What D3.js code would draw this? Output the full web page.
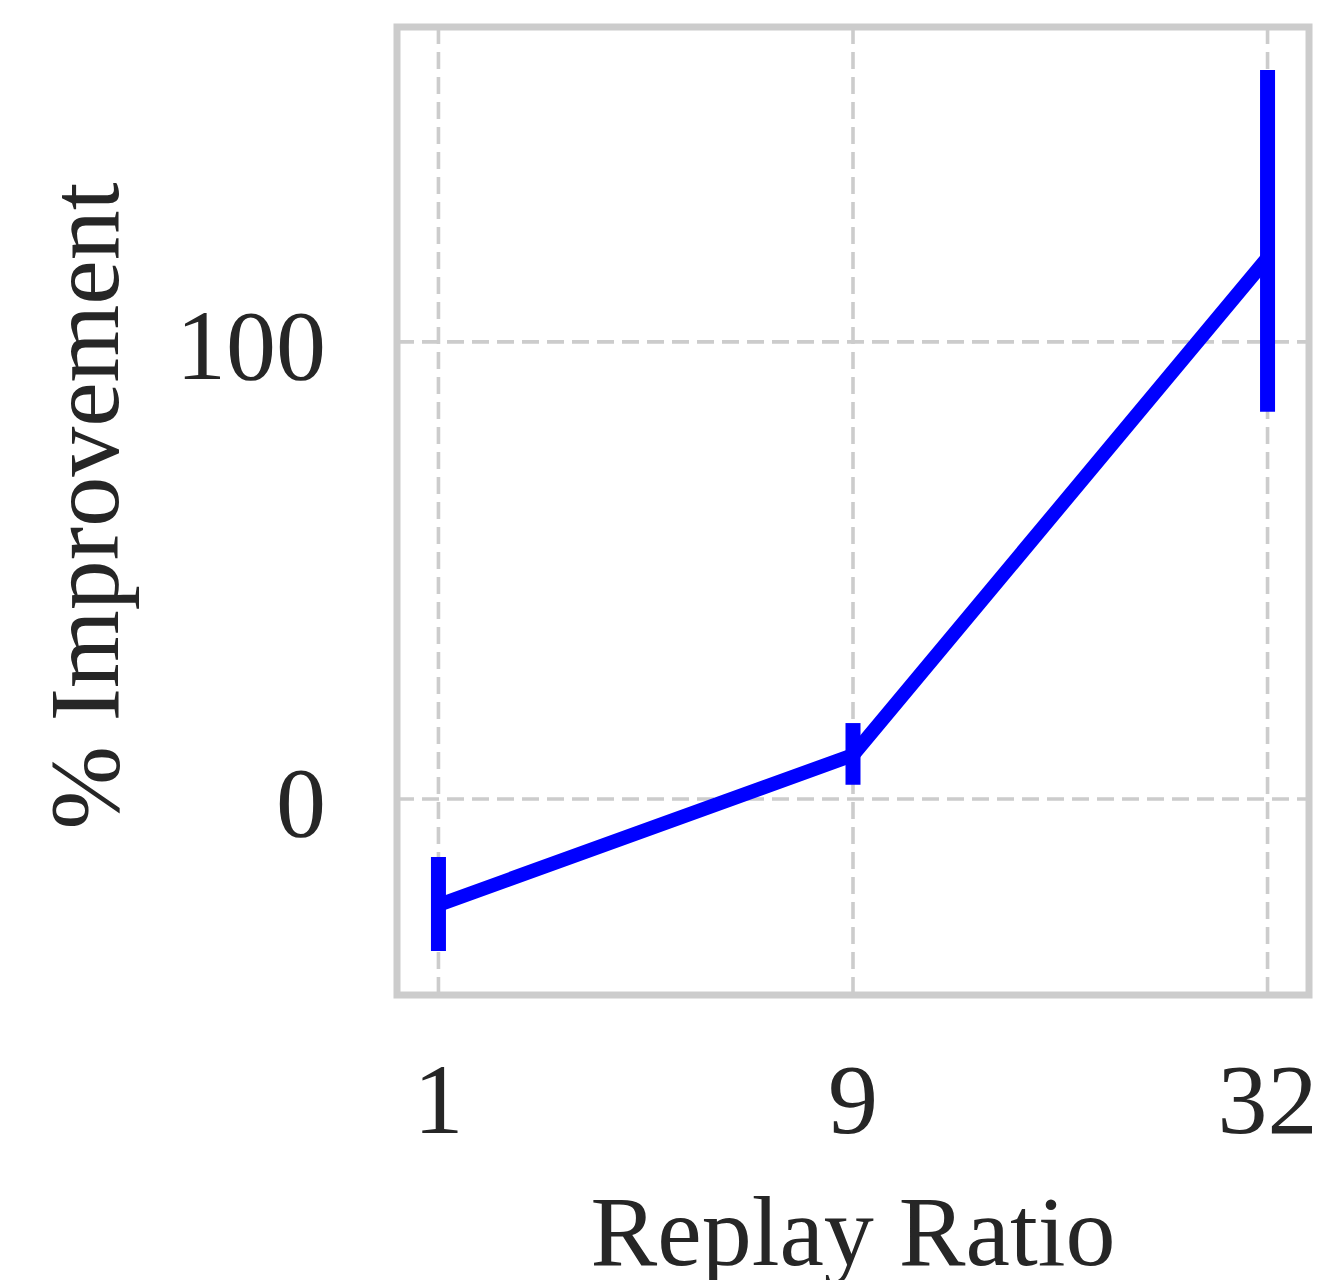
<!DOCTYPE html>
<html>
<head>
<meta charset="utf-8">
<script src="https://cdn.jsdelivr.net/npm/d3@7"></script>
<style>
  body { margin: 0; background: #fff; }
  svg text { font-family: "Liberation Serif", "DejaVu Serif", serif; fill: #262626; }
</style>
</head>
<body>
<svg id="chart" width="1331" height="1280"></svg>
<script>
/* data */
const ratios = ["1", "9", "32"];
const means = [-23.2, 9.6, 118.4];
const lower = [-33.3, 3.1, 84.7];
const upper = [-12.7, 16.6, 159.5];
const yTicks = [0, 100];

/* layout */
const box = { left: 397, right: 1309, top: 27, bottom: 995 };
const svg = d3.select("#chart");

const xScale = d3.scaleLinear()
    .domain([-0.1, 2.1])
    .range([box.left, box.right]);
const yScale = d3.scaleLinear()
    .domain([-42.9, 168.9])
    .range([box.bottom, box.top]);

const data = ratios.map((r, i) => ({ i: i, label: r, mean: means[i], lo: lower[i], hi: upper[i] }));

/* grid */
const grid = svg.append("g")
    .attr("stroke", "#cccccc")
    .attr("stroke-width", 3.6)
    .attr("stroke-dasharray", "17 8");

grid.selectAll("line.vx").data(data).enter()
    .append("line")
    .attr("x1", d => xScale(d.i))
    .attr("x2", d => xScale(d.i))
    .attr("y1", box.top)
    .attr("y2", box.bottom);

grid.selectAll("line.hy").data(yTicks).enter()
    .append("line")
    .attr("x1", box.left)
    .attr("x2", box.right)
    .attr("y1", d => yScale(d))
    .attr("y2", d => yScale(d));

/* mean line */
const line = d3.line()
    .x(d => xScale(d.i))
    .y(d => yScale(d.mean));

svg.append("path")
    .datum(data)
    .attr("d", line)
    .attr("fill", "none")
    .attr("stroke", "#0000ff")
    .attr("stroke-width", 14)
    .attr("stroke-linejoin", "round");

/* error bars */
svg.selectAll("line.err").data(data).enter()
    .append("line")
    .attr("x1", d => xScale(d.i))
    .attr("x2", d => xScale(d.i))
    .attr("y1", d => yScale(d.hi))
    .attr("y2", d => yScale(d.lo))
    .attr("stroke", "#0000ff")
    .attr("stroke-width", 15);

/* frame */
svg.append("rect")
    .attr("x", box.left)
    .attr("y", box.top)
    .attr("width", box.right - box.left)
    .attr("height", box.bottom - box.top)
    .attr("fill", "none")
    .attr("stroke", "#cccccc")
    .attr("stroke-width", 7);

/* tick labels */
svg.selectAll("text.xt").data(data).enter()
    .append("text")
    .attr("x", d => xScale(d.i))
    .attr("y", 1133)
    .attr("text-anchor", "middle")
    .attr("font-size", 100)
    .text(d => d.label);

svg.selectAll("text.yt").data(yTicks).enter()
    .append("text")
    .attr("x", 326)
    .attr("y", d => yScale(d) + 37)
    .attr("text-anchor", "end")
    .attr("font-size", 100)
    .text(d => d);

/* axis labels */
svg.append("text")
    .attr("x", (box.left + box.right) / 2)
    .attr("y", 1265)
    .attr("text-anchor", "middle")
    .attr("font-size", 100)
    .text("Replay Ratio");

svg.append("text")
    .attr("transform", "translate(118," + 506 + ") rotate(-90)")
    .attr("text-anchor", "middle")
    .attr("font-size", 100)
    .text("% Improvement");
</script>
</body>
</html>
